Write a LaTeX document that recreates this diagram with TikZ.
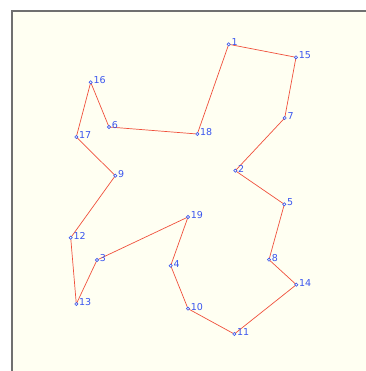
\documentclass[tikz,border=0pt]{standalone}
\usepackage{fontspec}
\setsansfont{DejaVu Sans}
\usepackage{tikz}
\definecolor{ecol}{HTML}{F0503C}
\definecolor{ncol}{HTML}{3A55EE}
\definecolor{bgcol}{HTML}{FFFFF2}
\definecolor{frcol}{HTML}{707070}
\begin{document}
\begin{tikzpicture}[x=1pt, y=-1pt,
  city/.style={circle, draw=ncol, line width=0.6pt, fill=bgcol, inner sep=0pt, minimum size=3.2pt,
    label={[ncol, font=\sffamily\fontsize{9.5}{10}\selectfont, inner sep=0.8pt, yshift=2pt]east:#1}},
  edge/.style={ecol, line width=0.7pt}]

\useasboundingbox (0,0) rectangle (365,371);
\fill[bgcol] (12,11) rectangle (366,372);
\draw[frcol, line width=1.4pt] (12,372) -- (12,11) -- (366,11);

\foreach \n/\x/\y in {1/228.7/44.3, 2/235.3/170.7, 3/97/260, 4/170.7/265.7, 5/284.3/204.3,
    6/109/127, 7/284.7/118, 8/269/259.7, 9/115.3/175.7, 10/188/308.7,
    11/234.3/334, 12/70.7/237.7, 13/76.3/304, 14/296.3/284.7, 15/296/57.3,
    16/90.7/82.3, 17/76.3/137, 18/197.3/134, 19/188/217}
  \coordinate (c\n) at (\x,\y);

% tour
\foreach \a/\b in {1/15, 15/7, 7/2, 2/5, 5/8, 8/14, 14/11, 11/10, 10/4, 4/19,
    19/3, 3/13, 13/12, 12/9, 9/17, 17/16, 16/6, 6/18, 18/1}
  \draw[edge] (c\a) -- (c\b);

\foreach \n in {1,...,19}
  \node[city=\n] (p\n) at (c\n) {};

\end{tikzpicture}
\end{document}
